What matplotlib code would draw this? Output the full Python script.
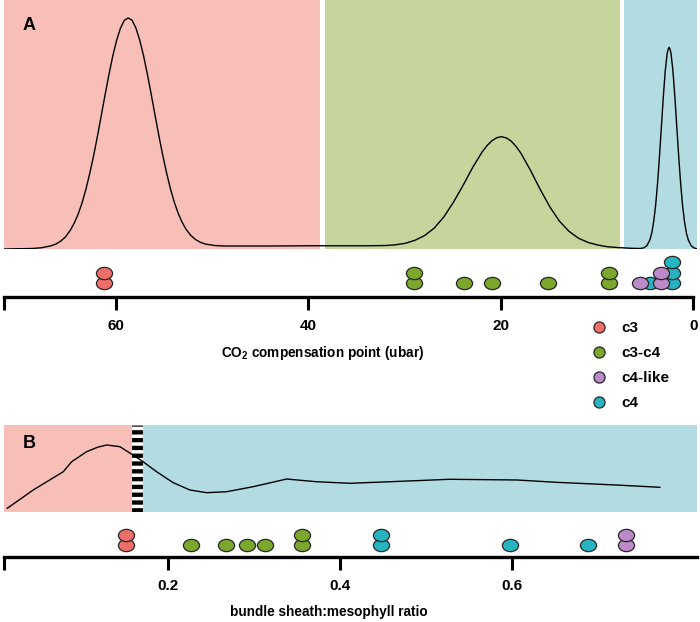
import numpy as np
import matplotlib.pyplot as plt
from matplotlib.path import Path
from matplotlib.lines import Line2D

plt.rcParams['font.family'] = ['Liberation Sans', 'DejaVu Sans']
plt.rcParams['mathtext.default'] = 'regular'

group_names = ['c3', 'c3-c4', 'c4-like', 'c4']
group_colors = {'c3': '#EE6F6A', 'c3-c4': '#7BA72D', 'c4-like': '#BC8AC8', 'c4': '#27B4C1'}
draw_order = ['c3', 'c3-c4', 'c4', 'c4-like']

# panel A - CO2 compensation point (ubar), one value per species
co2_vals = {
    'c3': [61.2, 61.2],
    'c3-c4': [29.0, 29.0, 23.8, 20.9, 15.1, 8.7, 8.7],
    'c4-like': [5.5, 3.3, 3.3],
    'c4': [4.5, 2.2, 2.2, 2.2],
}
# panel B - bundle sheath:mesophyll ratio
bsm_vals = {
    'c3': [0.151, 0.151],
    'c3-c4': [0.227, 0.267, 0.292, 0.312, 0.356, 0.356],
    'c4-like': [0.732, 0.732],
    'c4': [0.448, 0.448, 0.598, 0.688],
}

# density curve A
dens_a_x = [71.6, 68.7, 67.7, 66.7, 66.2, 65.7, 65.2, 64.7, 64.3, 63.9,
            63.5, 63.1, 62.7, 62.3, 61.9, 61.5, 61.1, 60.7, 60.3, 59.9,
            59.5, 59.1, 58.7, 58.3, 57.9, 57.5, 57.1, 56.7, 56.3, 55.9,
            55.5, 55.1, 54.7, 54.3, 53.9, 53.5, 53.1, 52.7, 52.2, 51.7,
            51.2, 50.7, 49.7, 48.7, 44, 40, 36, 33.9, 31.9, 30.9,
            29.9, 28.9, 27.9, 26.9, 25.9, 24.9, 23.9, 22.9, 21.9, 21.4,
            20.9, 20.4, 19.9, 19.4, 18.9, 18.4, 17.9, 16.9, 15.9, 14.9,
            13.9, 12.9, 11.9, 10.9, 9.9, 8.9, 7.9, 6.5, 5.5, 5.1,
            4.8, 4.5, 4.3, 4.1, 3.9, 3.7, 3.5, 3.3, 3.1, 2.9,
            2.7, 2.6, 2.5, 2.4, 2.3, 2.1, 1.9, 1.7, 1.5, 1.3,
            1.1, 0.9, 0.7, 0.5, 0.2, -0.1, -0.4]
dens_a_y = [0.0, 0.002, 0.005, 0.013, 0.020, 0.032, 0.049, 0.076, 0.104, 0.140,
            0.184, 0.238, 0.302, 0.373, 0.451, 0.535, 0.619, 0.700, 0.775, 0.838,
            0.887, 0.918, 0.928, 0.919, 0.888, 0.839, 0.776, 0.701, 0.620, 0.536,
            0.453, 0.375, 0.304, 0.241, 0.187, 0.143, 0.108, 0.080, 0.055, 0.038,
            0.027, 0.020, 0.014, 0.012, 0.012, 0.013, 0.013, 0.013, 0.014, 0.017,
            0.023, 0.035, 0.054, 0.084, 0.129, 0.188, 0.256, 0.328, 0.391, 0.416,
            0.435, 0.447, 0.451, 0.446, 0.433, 0.412, 0.385, 0.316, 0.240, 0.170,
            0.112, 0.071, 0.043, 0.026, 0.016, 0.009, 0.006, 0.003, 0.002, 0.005,
            0.014, 0.036, 0.064, 0.110, 0.175, 0.263, 0.371, 0.491, 0.611, 0.715,
            0.785, 0.802, 0.81, 0.802, 0.785, 0.715, 0.611, 0.491, 0.371, 0.263,
            0.175, 0.110, 0.064, 0.036, 0.013, 0.004, 0.001]

# density curve B
dens_b_x = [0.0128, 0.0430, 0.0779, 0.0877, 0.1051, 0.1180, 0.1284, 0.1438, 0.1590, 0.1691,
            0.1865, 0.2058, 0.2252, 0.2447, 0.2679, 0.2988, 0.3377, 0.3726, 0.4113, 0.4578,
            0.5276, 0.6055, 0.6520, 0.7217, 0.7717]
dens_b_y = [0.043, 0.253, 0.463, 0.578, 0.693, 0.745, 0.770, 0.751, 0.655, 0.590,
            0.463, 0.337, 0.253, 0.222, 0.233, 0.291, 0.379, 0.348, 0.330, 0.348,
            0.376, 0.368, 0.341, 0.310, 0.284]

# shaded regions (from, to, colour)
regions_a = [(71.6, 38.78, '#F7BFB7'), (38.26, 7.55, '#C6D59C'), (7.2, -0.4, '#B2DCE2')]
regions_b = [(0.009, 0.1574, '#F7BFB7'), (0.1702, 0.815, '#B2DCE2')]
cut_b = 0.1636

xlim_a = (71.6, -0.4)
xlim_b = (0.009, 0.815)
ticks_a = [71.6, 60, 40, 20, 0]
ticklabels_a = ['', '60', '40', '20', '0']
ticks_b = [0.009, 0.2, 0.4, 0.6]
ticklabels_b = ['', '0.2', '0.4', '0.6']


def stack_levels(vals):
    seen = {}
    lv = []
    for v in vals:
        lv.append(seen.get(v, 0))
        seen[v] = seen.get(v, 0) + 1
    return lv


circ = Path.unit_circle()
ellipse = Path(circ.vertices * [1.0, 0.76], circ.codes)

W, H = 700, 622
fig = plt.figure(figsize=(7, 6.22), dpi=100)


def px_axes(top, bottom):
    return fig.add_axes([4 / W, 1 - bottom / H, 693 / W, (bottom - top) / H])


def density_panel(ax, xs, ys, regions, xlim, letter, letter_y):
    for a, b, col in regions:
        ax.axvspan(a, b, color=col, lw=0)
    ax.plot(xs, ys, color='black', lw=1.0, zorder=5)
    ax.set_xlim(*xlim)
    ax.set_ylim(0, 1)
    ax.axis('off')
    ax.text(25 / 693, letter_y, letter, transform=ax.transAxes, ha='center', va='center',
            fontsize=13, fontweight='bold')


def dot_panel(ax, vals, xlim, ticks, ticklabels, xlabel, label_x, ylim):
    for g in draw_order:
        v = vals[g]
        ax.scatter(v, stack_levels(v), s=135, marker=ellipse, color=group_colors[g],
                   edgecolor='#262626', linewidth=0.9, clip_on=False, zorder=3)
    ax.set_xlim(*xlim)
    ax.set_ylim(*ylim)
    ax.patch.set_visible(False)
    for s in ['left', 'right', 'top']:
        ax.spines[s].set_visible(False)
    ax.spines['bottom'].set_linewidth(2.4)
    ax.set_yticks([])
    ax.set_xticks(ticks)
    ax.set_xticklabels(ticklabels, fontsize=11, fontweight='bold')
    ax.tick_params(axis='x', length=9.4, width=2.2, pad=6.5)
    ax.set_xlabel(xlabel, fontsize=9.8, fontweight='bold')
    ax.xaxis.label.set_va('center')
    ax.xaxis.set_label_coords(label_x, -1.33)


ax_a = px_axes(0, 249)
density_panel(ax_a, dens_a_x, dens_a_y, regions_a, xlim_a, 'A', 1 - 25 / 249)

ax_ad = px_axes(255, 297)
dot_panel(ax_ad, co2_vals, xlim_a, ticks_a, ticklabels_a,
          'CO$_2$ compensation point (ubar)', 0.46, (-1.305, 2.695))
ax_ad.spines['bottom'].set_bounds(0, 71.6)

ax_b = px_axes(425, 512)
density_panel(ax_b, dens_b_x, dens_b_y, regions_b, xlim_b, 'B', (512 - 444) / 87)
ax_b.axvline(cut_b, color='black', lw=7.8, linestyle=(0, (0.4, 0.32)), zorder=4)

ax_bd = px_axes(515, 556.7)
dot_panel(ax_bd, bsm_vals, xlim_b, ticks_b, ticklabels_b,
          'bundle sheath:mesophyll ratio', 0.468, (-1.11, 2.86))

handles = [Line2D([], [], marker='o', ls='none', markersize=8, markerfacecolor=group_colors[g],
                  markeredgecolor='#262626', markeredgewidth=0.9) for g in group_names]
fig.legend(handles, group_names, loc='upper left', bbox_to_anchor=(591 / W, 1 - 321 / H),
           frameon=False, borderpad=0, borderaxespad=0, handlelength=1.0,
           handletextpad=1.0, labelspacing=0.72, prop={'weight': 'bold', 'size': 11})

fig.savefig('out.png', dpi=100)
